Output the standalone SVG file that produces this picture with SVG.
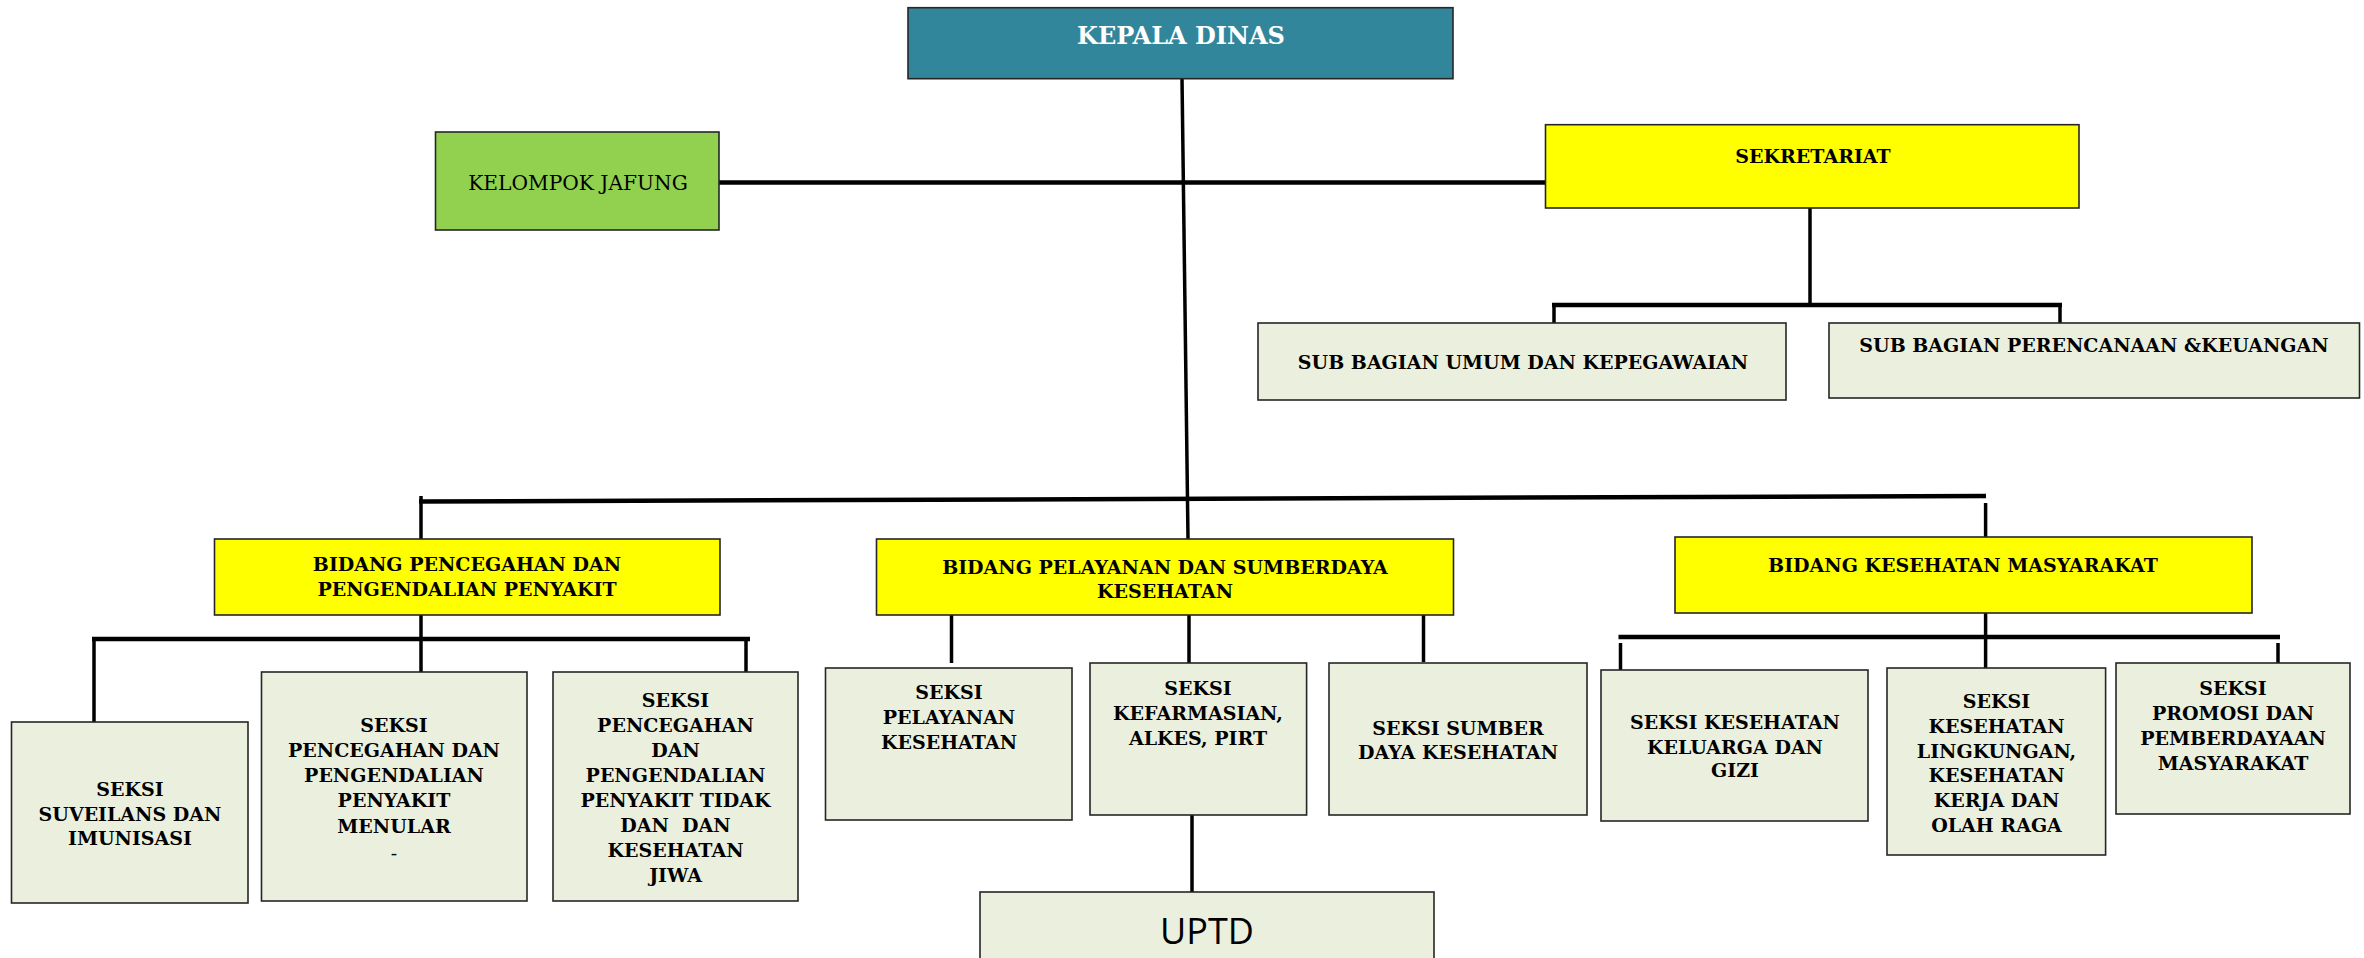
<svg xmlns="http://www.w3.org/2000/svg" width="2364" height="958" viewBox="0 0 2364 958">
<style>
.bx{stroke:#262626;stroke-width:1.6}
.teal{fill:#31869B}
.grn{fill:#92D050}
.yel{fill:#FFFF00}
.lt{fill:#EBF0DE}
.t{font-family:"DejaVu Serif","Liberation Serif",serif;font-weight:bold;font-size:19px;fill:#000;text-anchor:middle}
.tn{font-family:"DejaVu Serif","Liberation Serif",serif;font-size:20.2px;fill:#000;text-anchor:middle}
.tw{font-family:"DejaVu Serif","Liberation Serif",serif;font-weight:bold;font-size:24px;fill:#fff;text-anchor:middle}
.ts{font-family:"Open Sans","Noto Sans",sans-serif;font-size:36px;fill:#000;text-anchor:middle}
.c{stroke:#000;fill:none;stroke-linecap:butt}
.c3{stroke-width:3.5}
.c4{stroke-width:4.5}
</style>
<rect width="2364" height="958" fill="#fff"/>
<g id="connectors">
<line class="c c3" x1="1182" y1="78" x2="1188" y2="539"/>
<line class="c c4" x1="719" y1="182.5" x2="1545.5" y2="182.5"/>
<line class="c c3" x1="1810" y1="208" x2="1810" y2="305"/>
<line class="c c4" x1="1552" y1="305" x2="2062" y2="305"/>
<line class="c c3" x1="1554" y1="305" x2="1554" y2="323"/>
<line class="c c3" x1="2060" y1="305" x2="2060" y2="323"/>
<line class="c c4" x1="419" y1="501.5" x2="1986" y2="496"/>
<line class="c c3" x1="421" y1="496" x2="421" y2="539"/>
<line class="c c3" x1="1985.6" y1="503" x2="1985.6" y2="537"/>
<line class="c c3" x1="421" y1="615" x2="421" y2="639"/>
<line class="c c4" x1="92" y1="639" x2="750" y2="639"/>
<line class="c c3" x1="94" y1="639" x2="94" y2="722"/>
<line class="c c3" x1="421" y1="639" x2="421" y2="672"/>
<line class="c c3" x1="746" y1="639" x2="746" y2="672"/>
<line class="c c3" x1="951.5" y1="615" x2="951.5" y2="663"/>
<line class="c c3" x1="1189" y1="615" x2="1189" y2="663"/>
<line class="c c3" x1="1423.5" y1="613" x2="1423.5" y2="662"/>
<line class="c c3" x1="1192" y1="815" x2="1192" y2="892"/>
<line class="c c3" x1="1985.6" y1="613" x2="1985.6" y2="668"/>
<line class="c c4" x1="1618.5" y1="637" x2="2280" y2="637"/>
<line class="c c3" x1="1620.5" y1="643" x2="1620.5" y2="670"/>
<line class="c c3" x1="2278" y1="643" x2="2278" y2="663"/>
</g>
<g id="kepala-dinas">
<rect class="bx teal" x="908" y="7.7" width="545" height="71"/>
<text class="tw" x="1181" y="43.7">KEPALA DINAS</text>
</g>
<g id="kelompok-jafung">
<rect class="bx grn" x="435.5" y="132" width="283.5" height="98"/>
<text class="tn" x="578" y="189.5">KELOMPOK JAFUNG</text>
</g>
<g id="sekretariat">
<rect class="bx yel" x="1545.5" y="124.7" width="533.5" height="83.3"/>
<text class="t" x="1813" y="163">SEKRETARIAT</text>
</g>
<g id="sub-umum">
<rect class="bx lt" x="1258" y="323" width="528" height="77"/>
<text class="t" x="1523" y="369">SUB BAGIAN UMUM DAN KEPEGAWAIAN</text>
</g>
<g id="sub-perencanaan">
<rect class="bx lt" x="1829" y="323" width="530.5" height="75"/>
<text class="t" x="2094" y="352">SUB BAGIAN PERENCANAAN &amp;KEUANGAN</text>
</g>
<g id="bidang-p2p">
<rect class="bx yel" x="214.5" y="539" width="505.5" height="76"/>
<text class="t" x="467" y="571">BIDANG PENCEGAHAN DAN</text>
<text class="t" x="467" y="596">PENGENDALIAN PENYAKIT</text>
</g>
<g id="bidang-psk">
<rect class="bx yel" x="876.5" y="539" width="577" height="76"/>
<text class="t" x="1165" y="574">BIDANG PELAYANAN DAN SUMBERDAYA</text>
<text class="t" x="1165" y="598">KESEHATAN</text>
</g>
<g id="bidang-kesmas">
<rect class="bx yel" x="1675" y="537" width="577" height="76"/>
<text class="t" x="1963" y="572">BIDANG KESEHATAN MASYARAKAT</text>
</g>
<g id="seksi-suveilans">
<rect class="bx lt" x="11.5" y="722" width="236.5" height="181"/>
<text class="t" x="130" y="796">SEKSI</text>
<text class="t" x="130" y="821">SUVEILANS DAN</text>
<text class="t" x="130" y="845">IMUNISASI</text>
</g>
<g id="seksi-p2pm">
<rect class="bx lt" x="261.5" y="672" width="265.5" height="229"/>
<text class="t" x="394" y="732">SEKSI</text>
<text class="t" x="394" y="757">PENCEGAHAN DAN</text>
<text class="t" x="394" y="782">PENGENDALIAN</text>
<text class="t" x="394" y="807">PENYAKIT</text>
<text class="t" x="394" y="833">MENULAR</text>
<text class="tn" x="394" y="860" style="font-size:19px">-</text>
</g>
<g id="seksi-p2ptm">
<rect class="bx lt" x="553" y="672" width="245" height="229"/>
<text class="t" x="675.5" y="707">SEKSI</text>
<text class="t" x="675.5" y="732">PENCEGAHAN</text>
<text class="t" x="675.5" y="757">DAN</text>
<text class="t" x="675.5" y="782">PENGENDALIAN</text>
<text class="t" x="675.5" y="807">PENYAKIT TIDAK</text>
<text class="t" x="675.5" y="832" xml:space="preserve">DAN  DAN</text>
<text class="t" x="675.5" y="857">KESEHATAN</text>
<text class="t" x="675.5" y="882">JIWA</text>
</g>
<g id="seksi-pelayanan">
<rect class="bx lt" x="825.5" y="668" width="246.5" height="152"/>
<text class="t" x="949" y="699">SEKSI</text>
<text class="t" x="949" y="724">PELAYANAN</text>
<text class="t" x="949" y="749">KESEHATAN</text>
</g>
<g id="seksi-kefarmasian">
<rect class="bx lt" x="1090" y="663" width="216.6" height="152"/>
<text class="t" x="1198" y="695">SEKSI</text>
<text class="t" x="1198" y="720">KEFARMASIAN,</text>
<text class="t" x="1198" y="745">ALKES, PIRT</text>
</g>
<g id="seksi-sdk">
<rect class="bx lt" x="1329" y="663" width="258" height="152"/>
<text class="t" x="1458" y="735">SEKSI SUMBER</text>
<text class="t" x="1458" y="759">DAYA KESEHATAN</text>
</g>
<g id="uptd">
<rect class="bx lt" x="980" y="892" width="454" height="80"/>
<text class="ts" x="1207" y="943.5">UPTD</text>
</g>
<g id="seksi-kesga">
<rect class="bx lt" x="1601" y="670" width="267" height="151"/>
<text class="t" x="1735" y="729">SEKSI KESEHATAN</text>
<text class="t" x="1735" y="754">KELUARGA DAN</text>
<text class="t" x="1735" y="777">GIZI</text>
</g>
<g id="seksi-kesling">
<rect class="bx lt" x="1887" y="668" width="218.6" height="187"/>
<text class="t" x="1996.5" y="708">SEKSI</text>
<text class="t" x="1996.5" y="733">KESEHATAN</text>
<text class="t" x="1996.5" y="758">LINGKUNGAN,</text>
<text class="t" x="1996.5" y="782">KESEHATAN</text>
<text class="t" x="1996.5" y="807">KERJA DAN</text>
<text class="t" x="1996.5" y="832">OLAH RAGA</text>
</g>
<g id="seksi-promkes">
<rect class="bx lt" x="2116" y="663" width="234" height="151"/>
<text class="t" x="2233" y="695">SEKSI</text>
<text class="t" x="2233" y="720">PROMOSI DAN</text>
<text class="t" x="2233" y="745">PEMBERDAYAAN</text>
<text class="t" x="2233" y="770">MASYARAKAT</text>
</g>
</svg>
